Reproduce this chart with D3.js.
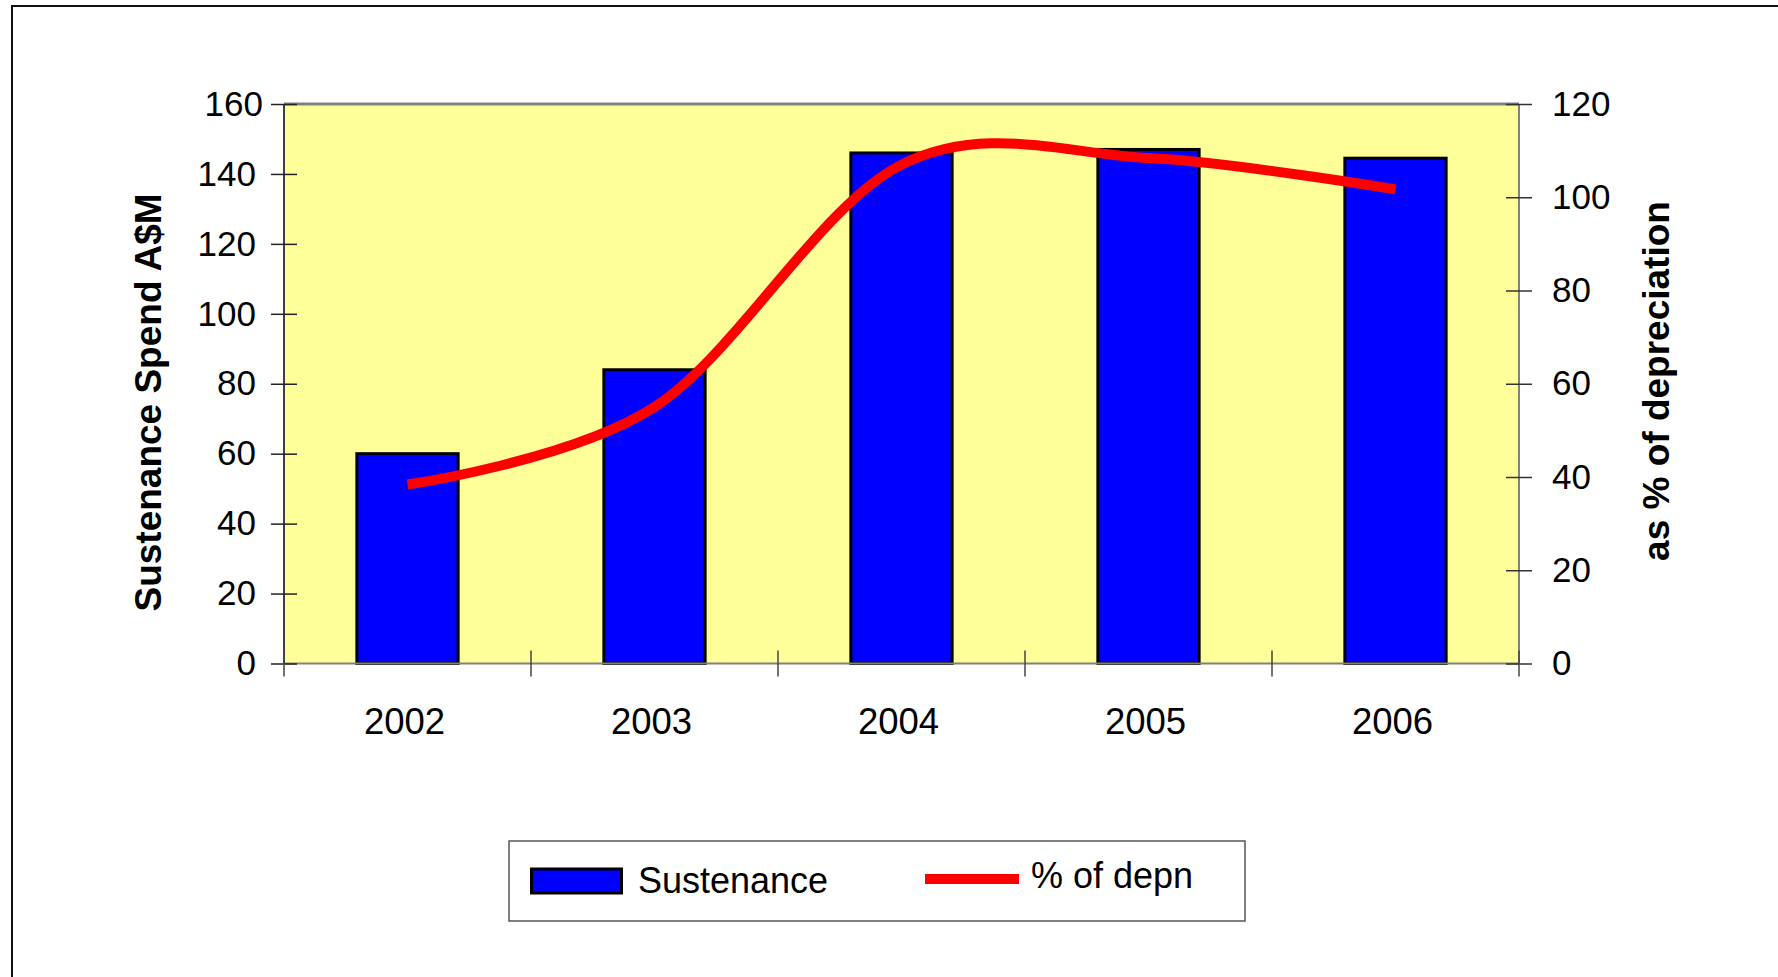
<!DOCTYPE html>
<html><head><meta charset="utf-8">
<script src="https://cdn.jsdelivr.net/npm/d3@7"></script>
<style>
body{margin:0;background:#fff;}
svg text{font-family:"Liberation Sans",Arial,sans-serif;fill:#000;}
</style>
</head><body>
<svg id="c" width="1778" height="977"></svg>
<script>
// ---- data ----
const categories = ["2002", "2003", "2004", "2005", "2006"];
const sustenance = [60, 84, 146, 147, 144.5];
const pctDepn = [38.4, 55, 107, 108.4, 101.7];
const leftTicks = [0, 20, 40, 60, 80, 100, 120, 140, 160];
const rightTicks = [0, 20, 40, 60, 80, 100, 120];
const seriesNames = ["Sustenance", "% of depn"];
const axisTitles = ["Sustenance Spend A$M", "as % of depreciation"];

// ---- layout ----
const svg = d3.select("#c");
const L = 284, R = 1519, T = 104, B = 663.5;

const x = d3.scaleBand().domain(categories).range([L, R]).paddingInner(0.59).paddingOuter(0.295);
const xb = d3.scaleBand().domain(categories).range([L, R]);
const yL = d3.scaleLinear().domain([0, 160]).range([B, T]);
const yR = d3.scaleLinear().domain([0, 120]).range([B, T]);

// outer frame
svg.append("rect").attr("x", 12).attr("y", 6).attr("width", 1800).attr("height", 1000)
  .attr("fill", "none").attr("stroke", "#111").attr("stroke-width", 2);

// plot background
svg.append("rect").attr("x", L).attr("y", T).attr("width", R - L).attr("height", B - T)
  .attr("fill", "#FFFF99");

// bars
svg.append("g").selectAll("rect").data(categories).enter().append("rect")
  .attr("x", d => x(d))
  .attr("y", (d, i) => yL(sustenance[i]))
  .attr("width", x.bandwidth())
  .attr("height", (d, i) => B - yL(sustenance[i]))
  .attr("fill", "#0000FF").attr("stroke", "#000").attr("stroke-width", 3);

// plot area border
svg.append("line").attr("x1", L).attr("x2", R).attr("y1", T).attr("y2", T)
  .attr("stroke", "#808080").attr("stroke-width", 3);
svg.append("line").attr("x1", R).attr("x2", R).attr("y1", T).attr("y2", B)
  .attr("stroke", "#808080").attr("stroke-width", 2);
svg.append("line").attr("x1", L).attr("x2", R).attr("y1", B).attr("y2", B)
  .attr("stroke", "#808080").attr("stroke-width", 2);
svg.append("line").attr("x1", L).attr("x2", L).attr("y1", T).attr("y2", B)
  .attr("stroke", "#404040").attr("stroke-width", 2);

// left axis
const gL = svg.append("g").attr("transform", `translate(${L},0)`)
  .call(d3.axisLeft(yL).tickValues(leftTicks).tickSize(13).tickPadding(15));
gL.select(".domain").remove();
gL.selectAll(".tick line").attr("x1", 13).attr("stroke", "#222").attr("stroke-width", 1.5);
gL.selectAll(".tick text").attr("font-size", 35).attr("fill", "#000")
  .attr("font-family", "Liberation Sans, Arial, sans-serif")
  .attr("dx", d => d === 160 ? 7 : 0);

// right axis
const gR = svg.append("g").attr("transform", `translate(${R},0)`)
  .call(d3.axisRight(yR).tickValues(rightTicks).tickSize(13).tickPadding(20));
gR.select(".domain").remove();
gR.selectAll(".tick line").attr("x1", -13).attr("stroke", "#333").attr("stroke-width", 1.5);
gR.selectAll(".tick text").attr("font-size", 35).attr("fill", "#000")
  .attr("font-family", "Liberation Sans, Arial, sans-serif");

// category axis labels
const gB = svg.append("g").attr("transform", `translate(-3,${B})`)
  .call(d3.axisBottom(x).tickSize(0).tickPadding(45));
gB.select(".domain").remove();
gB.selectAll(".tick text").attr("font-size", 36.5).attr("fill", "#000")
  .attr("font-family", "Liberation Sans, Arial, sans-serif");

// category boundary ticks
const bounds = categories.map(d => xb(d)).concat([R]);
svg.append("g").selectAll("line").data(bounds).enter().append("line")
  .attr("x1", d => d).attr("x2", d => d).attr("y1", B - 13).attr("y2", B + 13)
  .attr("stroke", "#444").attr("stroke-width", 1.5);

// line series
const line = d3.line()
  .x((d, i) => x(categories[i]) + x.bandwidth() / 2)
  .y(d => yR(d))
  .curve(d3.curveCardinal.tension(0));
svg.append("path").datum(pctDepn).attr("d", line)
  .attr("fill", "none").attr("stroke", "#FF0000").attr("stroke-width", 10)
  .attr("stroke-linejoin", "round").attr("stroke-linecap", "butt");

// axis titles
svg.append("text").attr("transform", "translate(161,402.5) rotate(-90)")
  .attr("text-anchor", "middle").attr("font-size", 37).attr("font-weight", "bold")
  .text(axisTitles[0]);
svg.append("text").attr("transform", "translate(1668.5,381) rotate(-90)")
  .attr("text-anchor", "middle").attr("font-size", 37).attr("font-weight", "bold")
  .text(axisTitles[1]);

// legend
const lg = svg.append("g");
lg.append("rect").attr("x", 509).attr("y", 841).attr("width", 736).attr("height", 80)
  .attr("fill", "#fff").attr("stroke", "#555").attr("stroke-width", 1.5);
lg.append("rect").attr("x", 531.5).attr("y", 869).attr("width", 90).attr("height", 24)
  .attr("fill", "#0000FF").attr("stroke", "#000").attr("stroke-width", 3);
lg.append("text").attr("x", 638).attr("y", 892.7).attr("font-size", 36).text(seriesNames[0]);
lg.append("line").attr("x1", 925).attr("x2", 1019).attr("y1", 879).attr("y2", 879)
  .attr("stroke", "#FF0000").attr("stroke-width", 10);
lg.append("text").attr("x", 1031).attr("y", 887.5).attr("font-size", 36).text(seriesNames[1]);
</script>
</body></html>
